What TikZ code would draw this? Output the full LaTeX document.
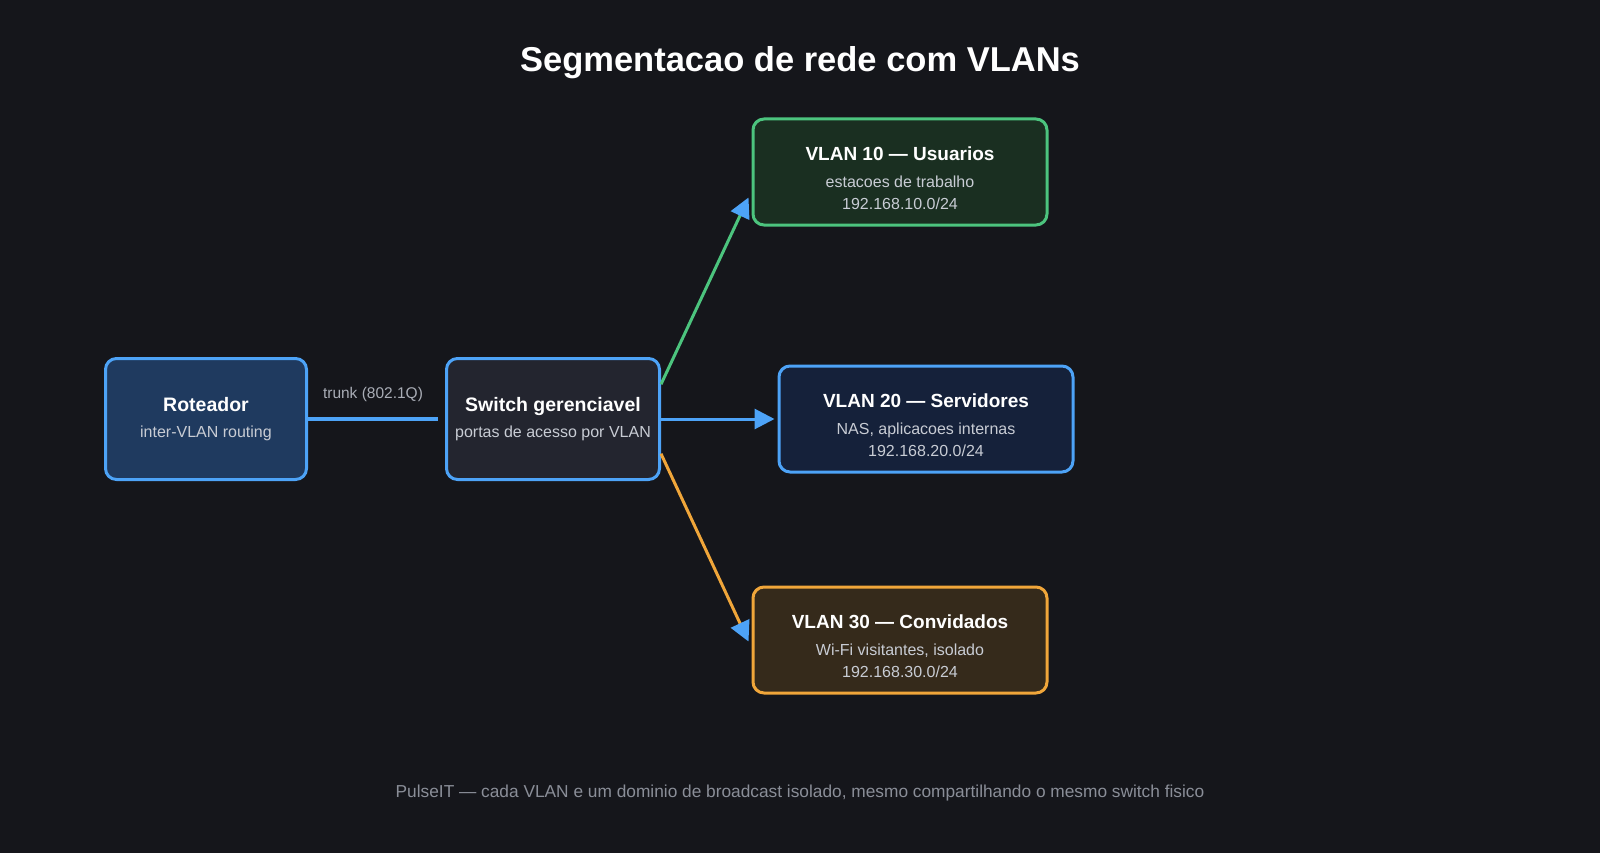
\documentclass[tikz,border=0pt]{standalone}
\usepackage{fontspec}
\setmainfont{Liberation Sans}
\usetikzlibrary{arrows.meta, calc}

\definecolor{bgdark}{HTML}{15161B}
\definecolor{linkblue}{HTML}{4DA3F7}
\definecolor{vlangreen}{HTML}{4CC47E}
\definecolor{vlanorange}{HTML}{F0A63A}
\definecolor{rotfill}{HTML}{1F3A5F}
\definecolor{swfill}{HTML}{23252F}
\definecolor{greenfill}{HTML}{1A2F21}
\definecolor{bluefill}{HTML}{15213A}
\definecolor{orangefill}{HTML}{352A1B}
\definecolor{subgrey}{HTML}{C8CCD4}
\definecolor{labelgrey}{HTML}{A9ADB6}
\definecolor{footgrey}{HTML}{8A8E98}

\newcommand{\boxtitle}[1]{{\fontsize{19.5}{23}\selectfont\bfseries\color{white}#1}}
\newcommand{\vlantitle}[1]{{\fontsize{19}{23}\selectfont\bfseries\color{white}\rule{0pt}{27pt}#1}}
\newcommand{\boxsub}[1]{{\color{subgrey}#1}}

\begin{document}
\begin{tikzpicture}[x=1pt, y=-1pt,
    box/.style={draw, line width=3pt, rounded corners=11pt, align=center,
      inner sep=0pt, font=\fontsize{16}{22.5}\selectfont},
    hostbox/.style={box, minimum height=121pt},
    vlanbox/.style={box, minimum width=294pt, minimum height=106pt},
    link/.style={line width=3pt},
    tipblue/.style={-{Triangle[color=linkblue, length=20pt, width=20pt]}}]

  % background and margins
  \fill[bgdark] (0,0) rectangle (1600,853);
  \useasboundingbox (0,0) rectangle (1600,853);

  \node[text=white, font=\fontsize{34.5}{40}\selectfont\bfseries] (title) at (800,63)
    {Segmentacao de rede com VLANs};

  % roteador e switch
  \node[hostbox, fill=rotfill, draw=linkblue, minimum width=201pt] (rot) at (206,419)
    {\boxtitle{Roteador}\\[4pt]\boxsub{inter-VLAN routing}};
  \node[hostbox, fill=swfill, draw=linkblue, minimum width=213pt] (sw) at (553,419)
    {\boxtitle{Switch gerenciavel}\\[4pt]\boxsub{portas de acesso por VLAN}};

  % as tres VLANs
  \node[vlanbox, fill=greenfill, draw=vlangreen] (v10) at (900,172)
    {\vlantitle{VLAN 10 --- Usuarios}\\[4pt]\boxsub{estacoes de trabalho}\\\boxsub{192.168.10.0/24}};
  \node[vlanbox, fill=bluefill, draw=linkblue] (v20) at (926,419)
    {\vlantitle{VLAN 20 --- Servidores}\\[4pt]\boxsub{NAS, aplicacoes internas}\\\boxsub{192.168.20.0/24}};
  \node[vlanbox, fill=orangefill, draw=vlanorange] (v30) at (900,640)
    {\vlantitle{VLAN 30 --- Convidados}\\[4pt]\boxsub{Wi-Fi visitantes, isolado}\\\boxsub{192.168.30.0/24}};

  % pontos de ligacao
  \coordinate (trunkend) at ($(sw.west)+(-7,0)$);
  \coordinate (upstart) at ($(sw.north east)!0.22!(sw.south east)$);
  \coordinate (downstart) at ($(sw.north east)!0.78!(sw.south east)$);
  \coordinate (upend) at ($(v10.south west)+(-3,-29)$);
  \coordinate (downend) at ($(v30.north west)+(-3,56)$);

  % ligacoes
  \draw[link, linkblue, line width=4pt] (rot.east) -- (trunkend)
    node[midway, above=12pt, text=labelgrey, font=\fontsize{15.5}{18}\selectfont] (trunk) {trunk (802.1Q)};
  \draw[link, linkblue, tipblue, shorten >=3pt] (sw.east) -- (v20.west);
  \draw[link, vlangreen, tipblue] (upstart) -- (upend);
  \draw[link, vlanorange, tipblue] (downstart) -- (downend);

  \node[text=footgrey, font=\fontsize{17.3}{20}\selectfont] (foot) at (800,793)
    {PulseIT --- cada VLAN e um dominio de broadcast isolado, mesmo compartilhando o mesmo switch fisico};
\end{tikzpicture}
\end{document}
